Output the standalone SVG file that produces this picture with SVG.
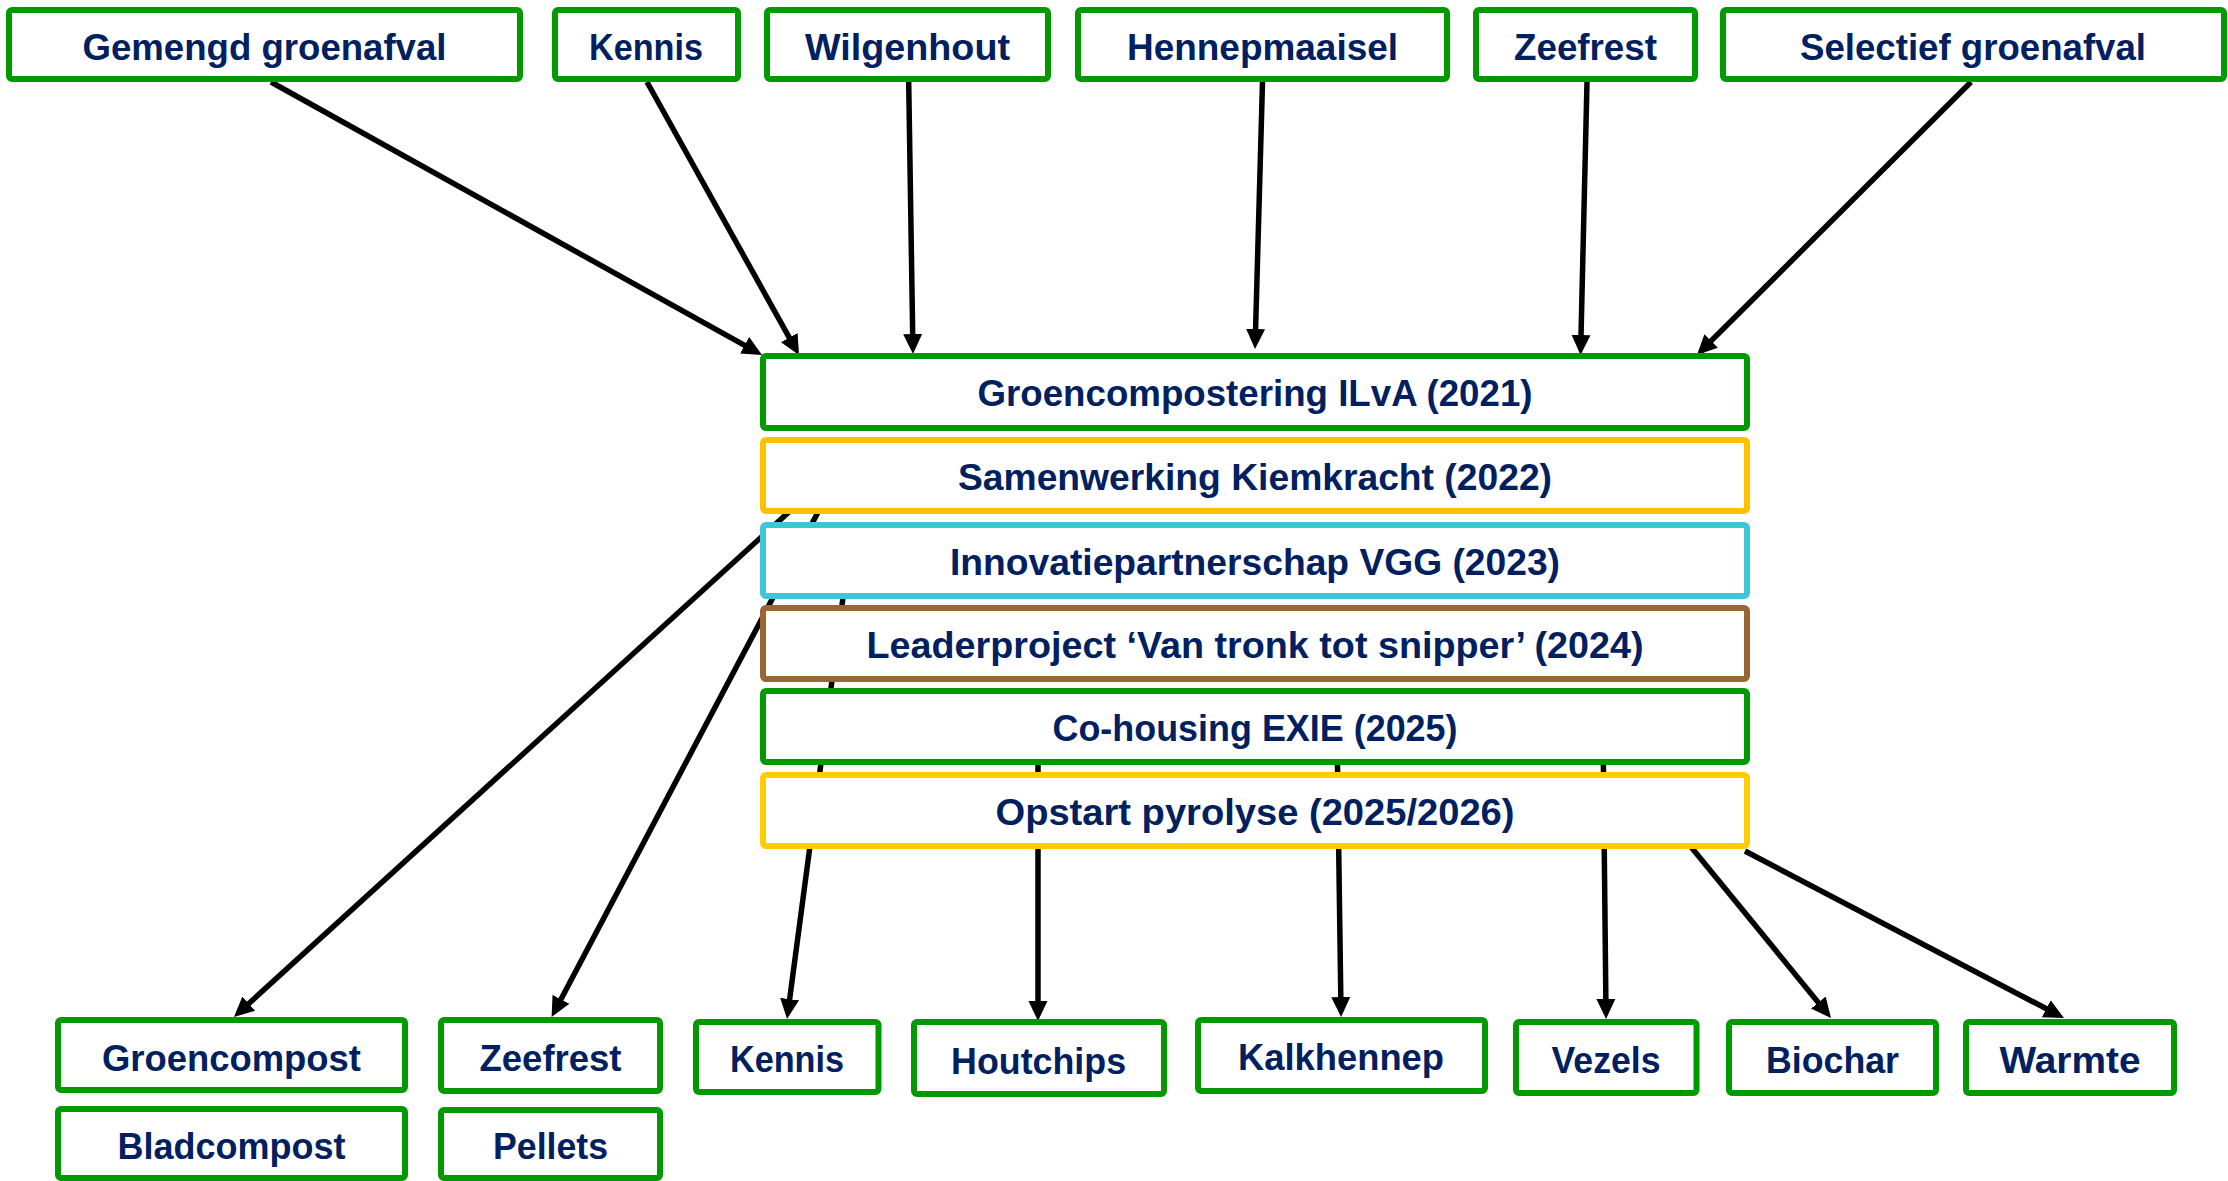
<svg xmlns="http://www.w3.org/2000/svg" width="2228" height="1181" viewBox="0 0 2228 1181">
<style>
.box{fill:#ffffff;stroke-width:6;}
.g{stroke:#009900;}
.y1{stroke:#FFC000;}
.y2{stroke:#FFCC00;}
.c{stroke:#3CC6D8;}
.b{stroke:#996633;}
.t{font-family:"Liberation Sans",Arial,sans-serif;font-weight:bold;font-size:37.5px;fill:#002060;text-anchor:middle;}
.e{fill:none;stroke:#000000;stroke-width:5.5;marker-end:url(#ah);}
</style>
<defs>
<marker id="ah" markerUnits="userSpaceOnUse" markerWidth="20" markerHeight="20" refX="14" refY="9.5" orient="auto" viewBox="0 0 20 19">
<path d="M0,0 L20,9.5 L0,19 z" fill="#000000"/>
</marker>
</defs>
<rect x="0" y="0" width="2228" height="1181" fill="#ffffff"/>
<g id="connectors">
<path class="e" d="M271,82 L756.8,352.1"/>
<path class="e" d="M647,82 L796.1,349.8"/>
<path class="e" d="M908.7,82 L912.9,348"/>
<path class="e" d="M1262.5,82 L1255.2,343"/>
<path class="e" d="M1587,82 L1580.7,349"/>
<path class="e" d="M1971,82 L1701.2,350.8"/>
<path class="e" d="M824,480 L238.4,1013"/>
<path class="e" d="M835,480 L554.4,1011.7"/>
<path class="e" d="M848,560 L787.8,1013"/>
<path class="e" d="M1038,730 L1038,1015"/>
<path class="e" d="M1337,730 L1341,1011"/>
<path class="e" d="M1603,730 L1606,1013"/>
<path class="e" d="M1669,820 L1827.2,1013.4"/>
<path class="e" d="M1745,851 L2058.7,1015.2"/>
</g>
<g id="n-gemengd"><rect class="box g" x="9" y="10" width="511" height="69" rx="3"/><text class="t" x="264.5" y="59.5" textLength="364" lengthAdjust="spacingAndGlyphs">Gemengd groenafval</text></g>
<g id="n-kennis-in"><rect class="box g" x="555" y="10" width="183" height="69" rx="3"/><text class="t" x="646" y="59.5" textLength="114" lengthAdjust="spacingAndGlyphs">Kennis</text></g>
<g id="n-wilgenhout"><rect class="box g" x="767" y="10" width="281" height="69" rx="3"/><text class="t" x="907.5" y="59.5" textLength="205" lengthAdjust="spacingAndGlyphs">Wilgenhout</text></g>
<g id="n-hennepmaaisel"><rect class="box g" x="1078" y="10" width="369" height="69" rx="3"/><text class="t" x="1262.5" y="59.5" textLength="271" lengthAdjust="spacingAndGlyphs">Hennepmaaisel</text></g>
<g id="n-zeefrest-in"><rect class="box g" x="1476" y="10" width="219" height="69" rx="3"/><text class="t" x="1585.5" y="59.5" textLength="143" lengthAdjust="spacingAndGlyphs">Zeefrest</text></g>
<g id="n-selectief"><rect class="box g" x="1723" y="10" width="501" height="69" rx="3"/><text class="t" x="1973" y="59.5" textLength="346" lengthAdjust="spacingAndGlyphs">Selectief groenafval</text></g>
<g id="n-ilva"><rect class="box g" x="763" y="356" width="984" height="72" rx="3"/><text class="t" x="1255" y="405.5" textLength="555" lengthAdjust="spacingAndGlyphs">Groencompostering ILvA (2021)</text></g>
<g id="n-kiemkracht"><rect class="box y1" x="763" y="440" width="984" height="71" rx="3"/><text class="t" x="1255" y="489.5" textLength="594" lengthAdjust="spacingAndGlyphs">Samenwerking Kiemkracht (2022)</text></g>
<g id="n-vgg"><rect class="box c" x="763" y="525" width="984" height="71" rx="3"/><text class="t" x="1255" y="574.5" textLength="610" lengthAdjust="spacingAndGlyphs">Innovatiepartnerschap VGG (2023)</text></g>
<g id="n-leader"><rect class="box b" x="763" y="608" width="984" height="71" rx="3"/><text class="t" x="1255" y="657.5" textLength="777" lengthAdjust="spacingAndGlyphs">Leaderproject ‘Van tronk tot snipper’ (2024)</text></g>
<g id="n-exie"><rect class="box g" x="763" y="691" width="984" height="71" rx="3"/><text class="t" x="1255" y="740.5" textLength="405" lengthAdjust="spacingAndGlyphs">Co-housing EXIE (2025)</text></g>
<g id="n-pyrolyse"><rect class="box y2" x="763" y="775" width="984" height="71" rx="3"/><text class="t" x="1255" y="824.5" textLength="519" lengthAdjust="spacingAndGlyphs">Opstart pyrolyse (2025/2026)</text></g>
<g id="n-groencompost"><rect class="box g" x="58" y="1020" width="347" height="70" rx="3"/><text class="t" x="231.5" y="1070.5" textLength="259" lengthAdjust="spacingAndGlyphs">Groencompost</text></g>
<g id="n-bladcompost"><rect class="box g" x="58" y="1109" width="347" height="69" rx="3"/><text class="t" x="231.5" y="1158.5" textLength="228" lengthAdjust="spacingAndGlyphs">Bladcompost</text></g>
<g id="n-zeefrest-out"><rect class="box g" x="441" y="1020" width="219" height="71" rx="3"/><text class="t" x="550.5" y="1070.5" textLength="142" lengthAdjust="spacingAndGlyphs">Zeefrest</text></g>
<g id="n-pellets"><rect class="box g" x="441" y="1110" width="219" height="68" rx="3"/><text class="t" x="550.5" y="1158.5" textLength="115" lengthAdjust="spacingAndGlyphs">Pellets</text></g>
<g id="n-kennis-out"><rect class="box g" x="696" y="1022" width="182.5" height="70" rx="3"/><text class="t" x="787" y="1071.5" textLength="114" lengthAdjust="spacingAndGlyphs">Kennis</text></g>
<g id="n-houtchips"><rect class="box g" x="914" y="1022" width="250" height="72" rx="3"/><text class="t" x="1038.6" y="1073.5" textLength="175" lengthAdjust="spacingAndGlyphs">Houtchips</text></g>
<g id="n-kalkhennep"><rect class="box g" x="1198" y="1020" width="287" height="71" rx="3"/><text class="t" x="1341" y="1069.5" textLength="206" lengthAdjust="spacingAndGlyphs">Kalkhennep</text></g>
<g id="n-vezels"><rect class="box g" x="1516" y="1022" width="180.5" height="71" rx="3"/><text class="t" x="1606" y="1072.5" textLength="109" lengthAdjust="spacingAndGlyphs">Vezels</text></g>
<g id="n-biochar"><rect class="box g" x="1729" y="1022" width="207" height="71" rx="3"/><text class="t" x="1832.5" y="1072.5" textLength="133" lengthAdjust="spacingAndGlyphs">Biochar</text></g>
<g id="n-warmte"><rect class="box g" x="1966" y="1022" width="208" height="71" rx="3"/><text class="t" x="2070" y="1072.5" textLength="141" lengthAdjust="spacingAndGlyphs">Warmte</text></g>
</svg>
